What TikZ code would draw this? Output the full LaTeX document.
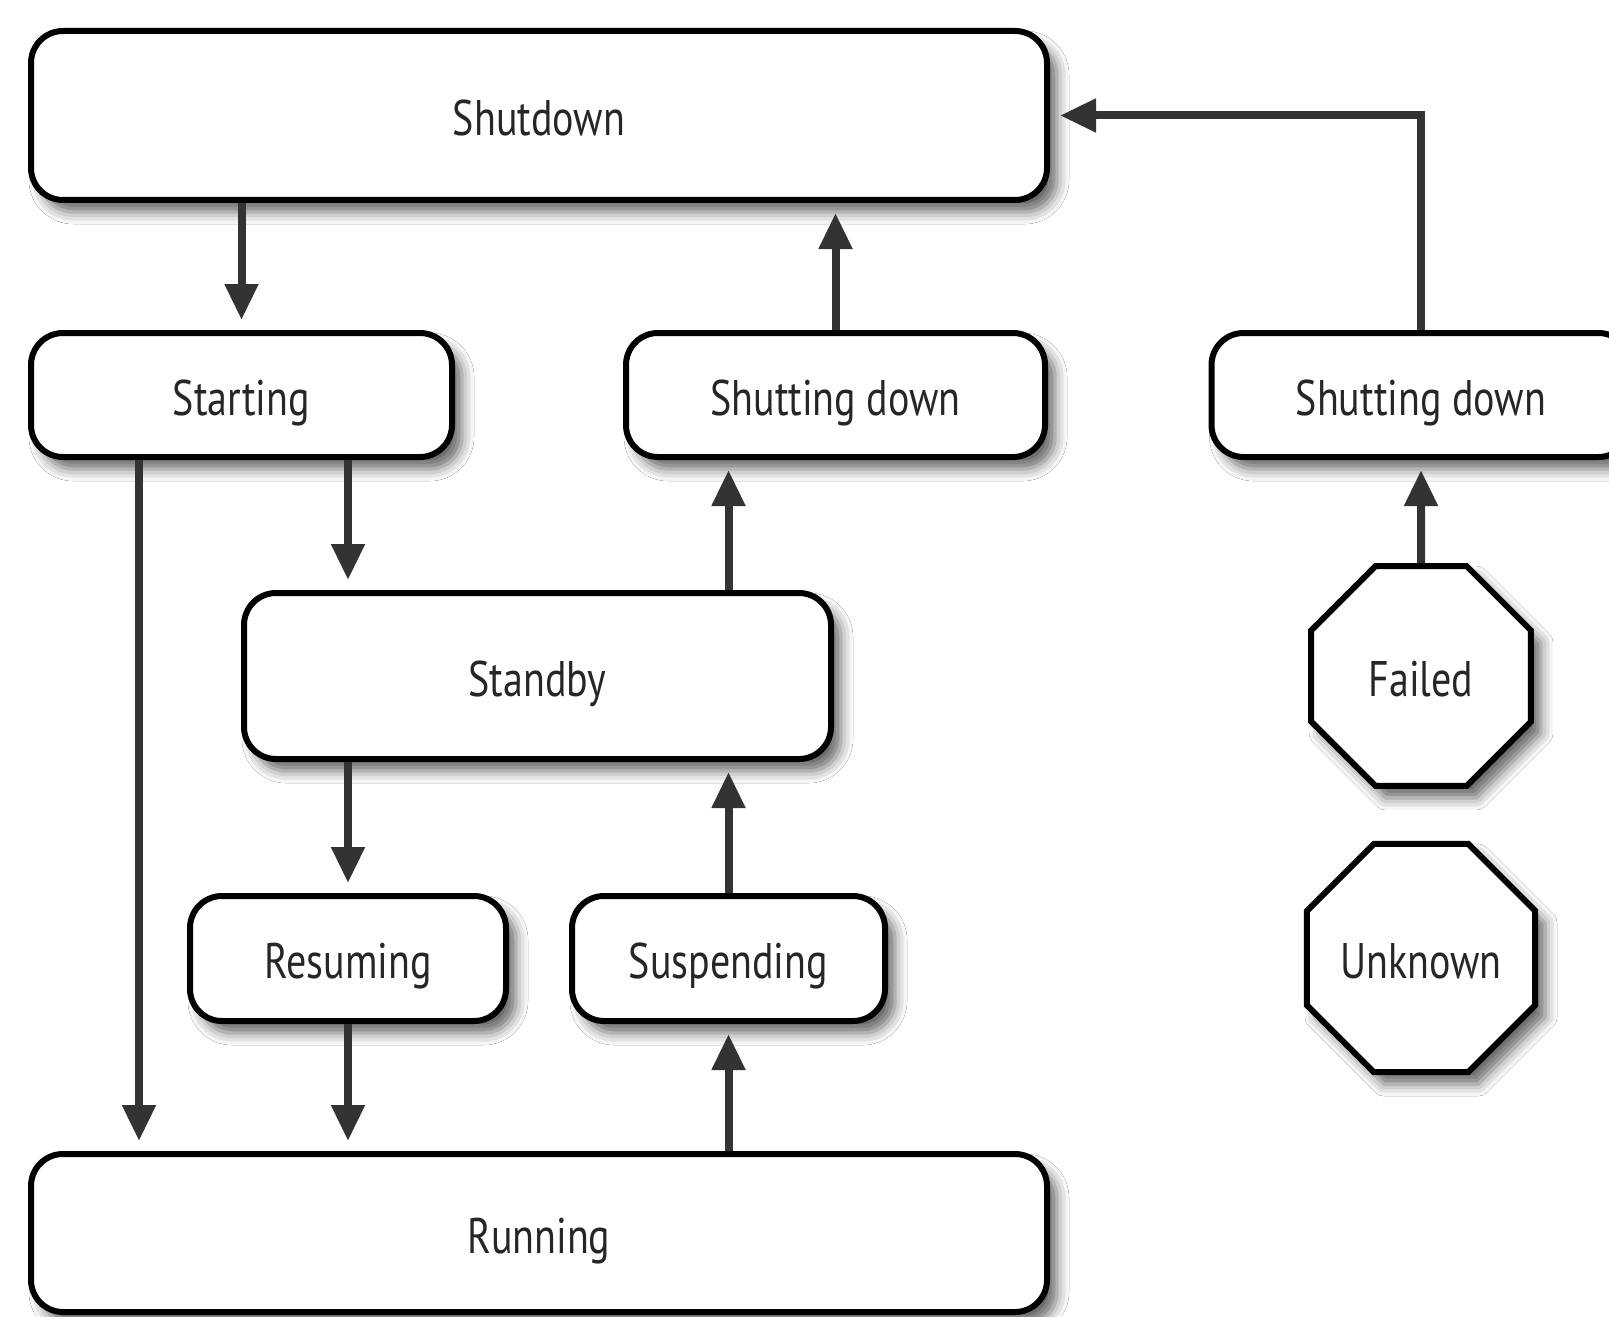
\documentclass[tikz,border=0pt]{standalone}
\usepackage{fontspec}
\setmainfont{PT Sans}[FakeStretch=0.8]
\usetikzlibrary{arrows.meta,shapes.geometric,shadows.blur}
\begin{document}
\begin{tikzpicture}[x=0.5pt,y=-0.5pt,
  state/.style={draw=black, line width=3pt, fill=white, rounded corners=16pt,
    inner sep=0pt, font=\fontsize{25}{30}\selectfont, text=black!85,
    text height=20pt, text depth=0pt,
    blur shadow={shadow xshift=5pt, shadow yshift=-6pt, shadow blur radius=6pt, shadow opacity=60}},
  octa/.style={state, sharp corners, regular polygon, regular polygon sides=8,
    minimum size=119pt},
  conn/.style={draw=black!80, line width=4pt, -{Triangle[width=16pt,length=18pt]}, shorten >=5pt}
]
\clip (0,0) rectangle (1609,1316);
\fill[white] (0,0) rectangle (1609,1316);

% states
\node[state, minimum width=508pt, minimum height=84.5pt] (shutdown) at (539,115.5) {Shutdown};
\node[state, minimum width=210.5pt, minimum height=62pt] (starting) at (241.5,395) {Starting};
\node[state, minimum width=209.5pt, minimum height=62pt] (sdmid) at (835.5,395) {Shutting down};
\node[state, minimum width=209.5pt, minimum height=62pt] (sdright) at (1421,395) {Shutting down};
\node[state, minimum width=293.5pt, minimum height=83pt] (standby) at (537.5,676) {Standby};
\node[state, minimum width=158pt, minimum height=62.5pt] (resuming) at (348,958.5) {Resuming};
\node[state, minimum width=156.5pt, minimum height=62.5pt] (suspending) at (728.5,958.5) {Suspending};
\node[state, minimum width=508pt, minimum height=79pt] (running) at (539,1233) {Running};
\node[octa] (failed) at (1421,676) {Failed};
\node[octa] (unknown) at (1421,958) {Unknown};

% direct start path down the left side
\coordinate (lane) at (139,0);

% transitions
\draw[conn] (shutdown.south -| starting) -- (starting.north);
\draw[conn] (starting.south -| resuming) -- (standby.north -| resuming);
\draw[conn] (starting.south -| lane) -- (running.north -| lane);
\draw[conn] (standby.south -| resuming) -- (resuming.north);
\draw[conn] (resuming.south) -- (running.north -| resuming);
\draw[conn] (running.north -| suspending) -- (suspending.south);
\draw[conn] (suspending.north) -- (standby.south -| suspending);
\draw[conn] (standby.north -| suspending) -- (sdmid.south -| suspending);
\draw[conn] (sdmid.north) -- (shutdown.south -| sdmid);
\draw[conn] (failed.north) -- (sdright.south);
\draw[conn] (sdright.north) |- (shutdown.east);
\end{tikzpicture}
\end{document}
